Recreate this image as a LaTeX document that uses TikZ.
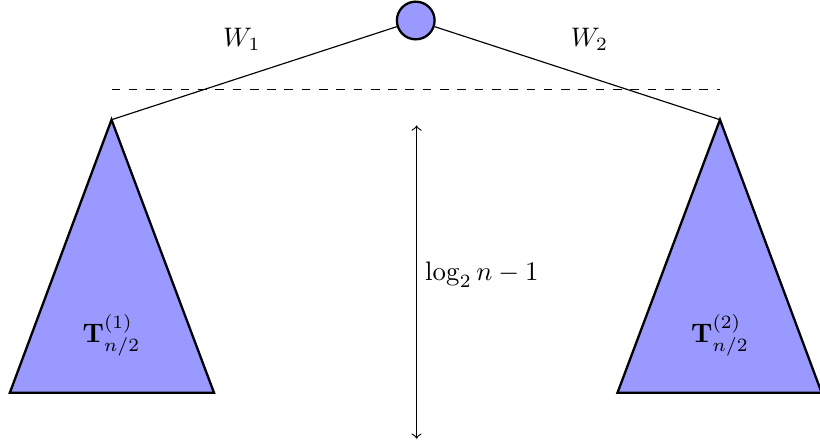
\documentclass[tikz,border=0pt]{standalone}
\usetikzlibrary{positioning}

\begin{document}
\begin{tikzpicture}[
  vertex/.style={draw=black,circle,fill=blue!40,minimum size=0.46cm,inner sep=0pt,thick},
  subtree/.style={draw=black,fill=blue!40,thick,line join=miter},
  edge/.style={draw=black},
  lab/.style={scale=0.93}]

  \useasboundingbox (-5.07,-5.21) rectangle (4.93,0.25);

  % apexes and bases of the two subtrees
  \coordinate (lapex) at (-3.71,-1.21);
  \coordinate (rapex) at (3.71,-1.21);
  \coordinate (lbl) at (-4.95,-4.54);
  \coordinate (lbr) at (-2.46,-4.54);
  \coordinate (rbl) at (2.46,-4.54);
  \coordinate (rbr) at (4.95,-4.54);

  % subtrees
  \draw[subtree] (lapex) -- (lbl) -- (lbr) -- cycle;
  \draw[subtree] (rapex) -- (rbl) -- (rbr) -- cycle;
  \node[lab] (tleft) at (-3.71,-3.84) {$\mathbf{T}_{n/2}^{(1)}$};
  \node[lab] (tright) at (3.71,-3.84) {$\mathbf{T}_{n/2}^{(2)}$};

  % root and its two edges
  \node[vertex] (root) at (0,0) {};
  \draw[edge] (root) -- (lapex);
  \draw[edge] (root) -- (rapex);
  \node[lab] (w1) at (-2.12,-0.23) {$W_1$};
  \node[lab] (w2) at (2.12,-0.23) {$W_2$};

  % level line
  \coordinate (dl) at (-3.71,-0.84);
  \coordinate (dr) at (3.71,-0.84);
  \draw[dashed] (dl) -- (dr);

  % height of the subtrees
  \coordinate (htop) at (0.01,-1.28);
  \coordinate (hbot) at (0.01,-5.10);
  \draw[<->] (htop) -- (hbot);
  \node[lab,anchor=west] (height) at (0.0,-3.10) {$\log_2 n-1$};
\end{tikzpicture}
\end{document}
